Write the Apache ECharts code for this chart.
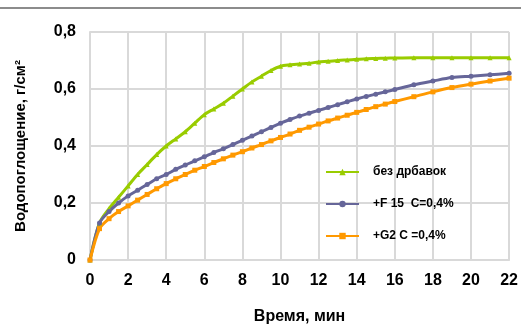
<!DOCTYPE html>
<html>
<head>
<meta charset="utf-8">
<script src="https://cdn.jsdelivr.net/npm/echarts@6/dist/echarts.min.js"></script>
<style>
html, body { margin: 0; padding: 0; background: #fff; }
#chart { width: 521px; height: 331px; }
</style>
</head>
<body>
<div id="chart"></div>
<script>
// Time points, min (every 0.5 min up to 16, then every minute)
const times = [0, 0.5, 1, 1.5, 2, 2.5, 3, 3.5, 4, 4.5, 5, 5.5, 6, 6.5, 7, 7.5, 8, 8.5, 9, 9.5,
  10, 10.5, 11, 11.5, 12, 12.5, 13, 13.5, 14, 14.5, 15, 15.5, 16, 17, 18, 19, 20, 21, 22];

// Water absorption, g/cm²
const plain = [0, 0.13, 0.18, 0.22, 0.26, 0.30, 0.335, 0.37, 0.40, 0.425, 0.45, 0.48, 0.51, 0.53, 0.55, 0.575, 0.60, 0.625, 0.645, 0.665,
  0.68, 0.685, 0.688, 0.69, 0.695, 0.697, 0.70, 0.702, 0.704, 0.706, 0.707, 0.708, 0.709, 0.71, 0.71, 0.71, 0.71, 0.71, 0.71];
const f15 = [0, 0.13, 0.17, 0.20, 0.225, 0.245, 0.265, 0.285, 0.30, 0.318, 0.333, 0.348, 0.362, 0.377, 0.39, 0.405, 0.42, 0.435, 0.45, 0.465,
  0.48, 0.493, 0.505, 0.515, 0.525, 0.535, 0.545, 0.555, 0.565, 0.574, 0.582, 0.59, 0.598, 0.615, 0.628, 0.64, 0.645, 0.65, 0.655];
const g2 = [0, 0.11, 0.145, 0.17, 0.19, 0.21, 0.23, 0.25, 0.268, 0.285, 0.30, 0.315, 0.328, 0.342, 0.355, 0.368, 0.38, 0.393, 0.405, 0.418,
  0.43, 0.442, 0.455, 0.466, 0.477, 0.488, 0.498, 0.508, 0.518, 0.528, 0.538, 0.547, 0.556, 0.573, 0.59, 0.605, 0.617, 0.628, 0.638];

const seriesNames = ['без дрбавок', '+F 15  C=0,4%', '+G2 C =0,4%'];
const xTicks = [0, 2, 4, 6, 8, 10, 12, 14, 16, 18, 20, 22];
const yTicks = [0, 0.2, 0.4, 0.6, 0.8];

const pairs = (ys) => times.map((t, i) => [t, ys[i]]);
const font = 'Liberation Sans, Arial, sans-serif';

const chart = echarts.init(document.getElementById('chart'), null, { renderer: 'canvas' });

function line(name, data, color, symbol, size) {
  return {
    name, type: 'line', data: pairs(data), smooth: 0.3,
    symbol, symbolSize: size, showSymbol: true,
    lineStyle: { color, width: 3 },
    itemStyle: { color },
    emphasis: { disabled: true }
  };
}

chart.setOption({
  animation: false,
  backgroundColor: '#fff',
  grid: { left: 90, right: 9, top: 32, bottom: 71, containLabel: false },
  graphic: [{
    type: 'line',
    shape: { x1: 0, y1: 8, x2: 521, y2: 8 },
    style: { stroke: '#8c8c8c', lineWidth: 2 }
  }],
  legend: {
    orient: 'vertical',
    left: 325, top: 166, padding: 0,
    itemWidth: 33, itemHeight: 8, itemGap: 20,
    textStyle: { fontFamily: font, fontWeight: 'bold', fontSize: 12, color: '#000', padding: [0, 0, 0, 9] },
    data: seriesNames
  },
  xAxis: {
    type: 'value', min: 0, max: 22, interval: 2,
    name: 'Время, мин', nameLocation: 'middle', nameGap: 49,
    nameTextStyle: { fontFamily: font, fontWeight: 'bold', fontSize: 16, color: '#000' },
    axisLine: { show: true, lineStyle: { color: '#d9d9d9', width: 2 } },
    axisTick: { show: false },
    axisLabel: {
      margin: 13, fontFamily: font, fontWeight: 'bold', fontSize: 16, color: '#000',
      formatter: (v) => xTicks.includes(v) ? String(v) : ''
    },
    splitLine: { show: true, lineStyle: { color: '#d9d9d9', width: 2 } }
  },
  yAxis: {
    type: 'value', min: 0, max: 0.8, interval: 0.2,
    name: 'Водопоглощение, г/см²', nameLocation: 'middle', nameGap: 62, nameRotate: 90,
    nameTextStyle: { fontFamily: font, fontWeight: 'bold', fontSize: 15, color: '#000' },
    axisLine: { show: true, lineStyle: { color: '#d9d9d9', width: 2 } },
    axisTick: { show: false },
    axisLabel: {
      margin: 14, fontFamily: font, fontWeight: 'bold', fontSize: 16, color: '#000',
      formatter: (v) => {
        const t = yTicks.find((k) => Math.abs(k - v) < 1e-9);
        return t === undefined ? '' : String(+t.toFixed(1)).replace('.', ',');
      }
    },
    splitLine: { show: true, lineStyle: { color: '#d9d9d9', width: 2 } }
  },
  series: [
    line(seriesNames[0], plain, '#99cc00', 'triangle', 5),
    line(seriesNames[1], f15, '#666699', 'circle', 5),
    line(seriesNames[2], g2, '#ff9900', 'rect', 5)
  ]
});
</script>
</body>
</html>
